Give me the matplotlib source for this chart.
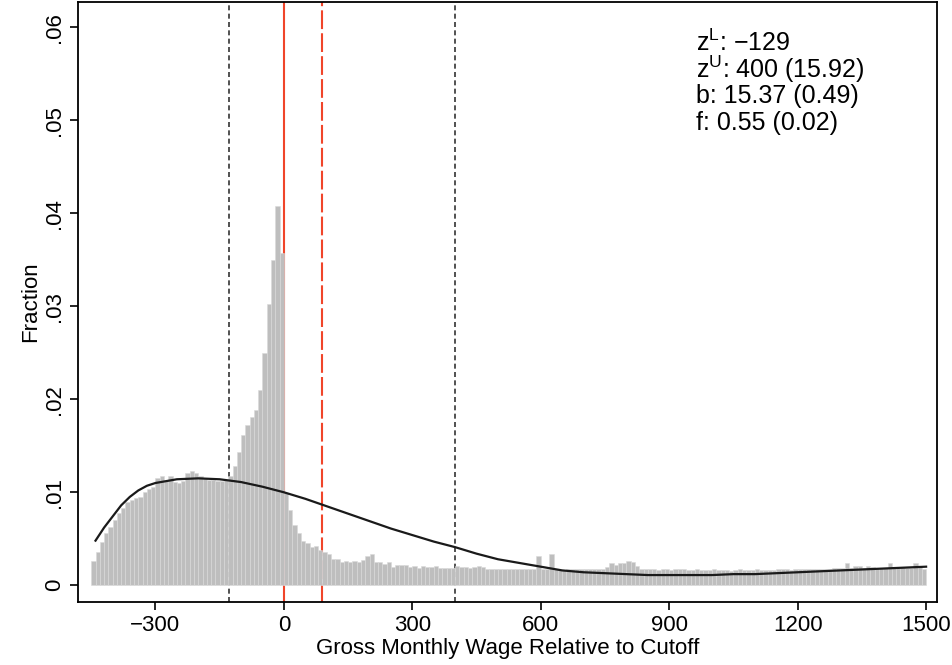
import numpy as np
import matplotlib
matplotlib.use("Agg")
import matplotlib.pyplot as plt
from matplotlib import font_manager

# fonts: narrow arial-like look if available
names = set(f.name for f in font_manager.fontManager.ttflist)
fam = [f for f in ["Liberation Sans Narrow", "Liberation Sans", "DejaVu Sans"] if f in names]
plt.rcParams["font.family"] = fam
plt.rcParams["mathtext.fontset"] = "custom"
plt.rcParams["mathtext.rm"] = fam[0]
plt.rcParams["mathtext.it"] = fam[0]

# histogram: bins of 10 starting at -450
bin_start = -450
bin_width = 10
fraction = [
    0.0026, 0.0036, 0.0047, 0.0056, 0.0063, 0.0070, 0.0078, 0.0083, 0.0090, 0.0092,
    0.0094, 0.0095, 0.0100, 0.0104, 0.0106, 0.0115, 0.0117, 0.0112, 0.0118, 0.0111,
    0.0110, 0.0112, 0.0121, 0.0123, 0.0121, 0.0118, 0.0115, 0.0113, 0.0113, 0.0112,
    0.0112, 0.0113, 0.0118, 0.0128, 0.0143, 0.0162, 0.0172, 0.0181, 0.0188, 0.0210,
    0.0250, 0.0303, 0.0350, 0.0408, 0.0357,
    # 0 .. 290
    0.0099, 0.0081, 0.0065, 0.0056, 0.0048, 0.0045, 0.0041, 0.0042, 0.0038, 0.0036,
    0.0034, 0.0028, 0.0028, 0.0025, 0.0026, 0.0025, 0.0026, 0.0025, 0.0027, 0.0031,
    0.0034, 0.0025, 0.0025, 0.0023, 0.0025, 0.0020, 0.0022, 0.0022, 0.0022, 0.0020,
    # 300 .. 590
    0.0021, 0.0019, 0.0021, 0.0020, 0.0020, 0.0021, 0.0019, 0.0019, 0.0019, 0.0019,
    0.0021, 0.0020, 0.0020, 0.0019, 0.0020, 0.0021, 0.0020, 0.0018, 0.0018, 0.0018,
    0.0018, 0.0017, 0.0017, 0.0018, 0.0017, 0.0018, 0.0018, 0.0017, 0.0018, 0.0031,
    # 600 .. 890
    0.0017, 0.0017, 0.0034, 0.0017, 0.0016, 0.0016, 0.0017, 0.0017, 0.0017, 0.0017,
    0.0017, 0.0017, 0.0017, 0.0018, 0.0018, 0.0020, 0.0024, 0.0022, 0.0024, 0.0024,
    0.0026, 0.0025, 0.0021, 0.0017, 0.0017, 0.0017, 0.0017, 0.0016, 0.0017, 0.0017,
    # 900 .. 1190
    0.0016, 0.0017, 0.0017, 0.0017, 0.0016, 0.0016, 0.0017, 0.0016, 0.0016, 0.0016,
    0.0017, 0.0016, 0.0016, 0.0016, 0.0015, 0.0016, 0.0017, 0.0016, 0.0016, 0.0016,
    0.0017, 0.0016, 0.0016, 0.0016, 0.0016, 0.0017, 0.0017, 0.0017, 0.0016, 0.0017,
    # 1200 .. 1490
    0.0017, 0.0017, 0.0018, 0.0017, 0.0018, 0.0018, 0.0018, 0.0018, 0.0019, 0.0019,
    0.0019, 0.0024, 0.0019, 0.0021, 0.0021, 0.0019, 0.0021, 0.0020, 0.0019, 0.0019,
    0.0019, 0.0024, 0.0020, 0.0019, 0.0020, 0.0019, 0.0019, 0.0024, 0.0020, 0.0018,
]

# fitted counterfactual density
fit_x = [-440, -420, -400, -380, -360, -340, -320, -300, -275, -250, -200, -150,
         -100, -50, 0, 50, 100, 150, 200, 250, 300, 350, 400, 450, 500, 550, 600,
         650, 700, 750, 800, 850, 900, 950, 1000, 1050, 1100, 1150, 1200, 1250,
         1300, 1350, 1400, 1450, 1500]
fit_y = [0.0048, 0.0062, 0.0074, 0.0086, 0.0095, 0.0102, 0.0107, 0.0110, 0.0112,
         0.0114, 0.0115, 0.0114, 0.0111, 0.0106, 0.0100, 0.0093, 0.0085, 0.0077,
         0.0069, 0.0061, 0.0054, 0.0047, 0.0041, 0.0034, 0.0028, 0.0024, 0.0020,
         0.0016, 0.0014, 0.0013, 0.0012, 0.0011, 0.0011, 0.0011, 0.0011, 0.0012,
         0.0012, 0.0013, 0.0014, 0.0015, 0.0016, 0.0017, 0.0018, 0.0019, 0.0020]

z_lower = -129
z_upper = 400
cutoff = 0
z_red = 88

xticks = [-300, 0, 300, 600, 900, 1200, 1500]
yticks = [0, 0.01, 0.02, 0.03, 0.04, 0.05, 0.06]
ytick_labels = ["0", ".01", ".02", ".03", ".04", ".05", ".06"]
notes = ["z$^{\\mathrm{L}}$: \u2212129", "z$^{\\mathrm{U}}$: 400 (15.92)",
         "b: 15.37 (0.49)", "f: 0.55 (0.02)"]

fig = plt.figure(figsize=(9.53, 6.65), dpi=100)
ax = fig.add_axes([0.0818, 0.0947, 0.9012, 0.902])

left = bin_start + bin_width * np.arange(len(fraction))
ax.bar(left, fraction, width=bin_width, align="edge", color="#bebebe",
       edgecolor="#d9d9d9", linewidth=0.4, zorder=2)

ax.axvline(z_lower, color="#333333", ls=(0, (3, 2)), lw=1.2, zorder=1)
ax.axvline(z_upper, color="#333333", ls=(0, (3, 2)), lw=1.2, zorder=1)
ax.axvline(cutoff, color="#f0452a", lw=1.5, zorder=1)
ax.axvline(z_red, color="#f0452a", ls=(0, (9, 2)), lw=1.5, zorder=1)

ax.plot(fit_x, fit_y, color="#1a1a1a", lw=1.6, zorder=3)

ax.set_xlim(-481, 1525)
ax.set_ylim(-0.0018, 0.0627)
ax.set_xticks(xticks)
ax.set_xticklabels([str(t).replace("-", "\u2212") for t in xticks], fontsize=16)
ax.set_yticks(yticks)
ax.set_yticklabels(ytick_labels, fontsize=16, rotation=90, va="center")
ax.tick_params(length=6, width=1.2, direction="out")
for s in ax.spines.values():
    s.set_linewidth(1.3)

ax.set_xlabel("Gross Monthly Wage Relative to Cutoff", fontsize=16, labelpad=1)
ax.set_ylabel("Fraction", fontsize=16, labelpad=2)

for i, t in enumerate(notes):
    ax.text(0.72, 0.933 - i * 0.045, t, transform=ax.transAxes, fontsize=18,
            va="center", ha="left")

fig.savefig("out.png", dpi=100)
